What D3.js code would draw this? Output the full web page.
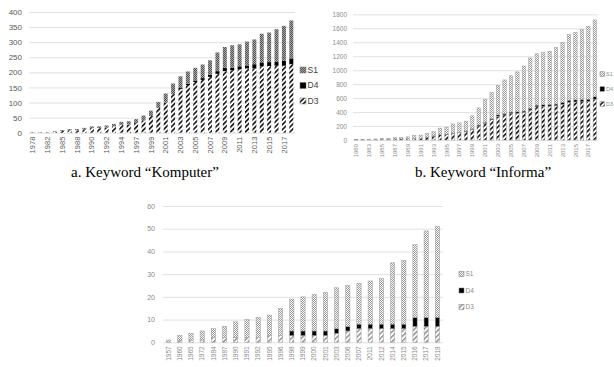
<!DOCTYPE html>
<html>
<head>
<meta charset="utf-8">
<script src="https://cdn.jsdelivr.net/npm/d3@7"></script>
<style>
  body { margin: 0; background: #fff; }
  svg { display: block; }
  .tick line { stroke: #d9d9d9; stroke-width: 0.8; }
  .domain { display: none; }
  .caption { font-family: "Liberation Serif", "Times New Roman", serif; font-size: 15px; fill: #000; }
</style>
</head>
<body>
<svg id="fig" width="614" height="367"></svg>
<script>
// a. Keyword "Komputer"
var aYears = [1978,1980,1982,1984,1985,1987,1988,1989,1990,1991,1992,1993,1994,1996,1997,1998,1999,
  2000,2001,2002,2003,2004,2005,2006,2007,2008,2009,2010,2011,2012,2013,2014,2015,2016,2017,2018];
var aD3 = [1,1,1,3,6,8,8,11,15,15,17,21,26,27,32,41,55,
  82,100,128,145,158,168,175,185,195,204,207,210,213,213,220,221,222,222,227];
var aD4 = [0,0,0,0,0,0,0,0,0,0,0,0,0,0,0,0,0,
  0,0,0,3,4,5,6,7,9,11,8,10,10,14,13,13,14,16,19];
var aS1 = [1,1,1,2,3,4,4,5,6,6,7,8,10,11,13,16,18,
  20,30,35,39,41,42,45,48,62,69,75,73,79,82,95,98,107,116,126];
var aTicks = [0,50,100,150,200,250,300,350,400];

// b. Keyword "Informa"
var bYears = [1980,1982,1983,1984,1985,1986,1987,1988,1989,1990,1991,1992,1993,1994,1995,1996,1997,1998,1999,
  2000,2001,2002,2003,2004,2005,2006,2007,2008,2009,2010,2011,2012,2013,2014,2015,2016,2017,2018];
var bD3 = [3,3,5,8,12,12,15,15,20,25,25,40,55,75,80,95,105,120,150,
  200,240,290,340,360,380,385,395,430,475,480,485,490,510,540,545,550,555,585];
var bD4 = [0,0,0,0,0,0,0,0,0,0,0,0,5,5,5,5,5,10,10,
  15,15,15,20,20,20,20,20,25,25,25,25,25,30,30,30,30,30,35];
var bS1 = [2,2,5,7,13,13,20,20,25,40,45,55,60,90,95,130,135,140,185,
  245,325,375,420,480,520,570,645,720,735,745,760,810,855,940,965,1000,1045,1100];
var bTicks = [0,200,400,600,800,1000,1200,1400,1600,1800];

// c. third keyword
var cYears = [1957,1960,1965,1972,1984,1987,1990,1991,1992,1995,1996,1998,1999,2000,2001,2003,
  2006,2007,2011,2012,2014,2015,2016,2017,2018];
var cD3 = [0,1,1,1,2,2,2,2,2,3,3,3,3,3,3,4,5,6,6,6,6,6,7,7,7];
var cD4 = [0,0,0,0,0,0,0,0,0,0,0,2,2,2,2,2,2,2,2,2,2,2,4,4,4];
var cS1 = [1,2,3,4,4,5,7,8,9,9,12,14,15,16,17,18,18,18,19,20,27,28,32,38,40];
var cTicks = [0,10,20,30,40,50,60];

var keys = ["D3", "D4", "S1"];
var svg = d3.select("#fig");
var defs = svg.append("defs");

// fill patterns
function dotPattern(id, bg, dot, size) {
  var p = defs.append("pattern").attr("id", id)
    .attr("patternUnits", "userSpaceOnUse").attr("width", size).attr("height", size);
  p.append("rect").attr("width", size).attr("height", size).attr("fill", bg);
  p.append("rect").attr("width", 1).attr("height", 1).attr("fill", dot);
  p.append("rect").attr("x", size / 2).attr("y", size / 2).attr("width", 1).attr("height", 1).attr("fill", dot);
}
function stripePattern(id, color, w) {
  var p = defs.append("pattern").attr("id", id)
    .attr("patternUnits", "userSpaceOnUse").attr("width", 3.5).attr("height", 3.5)
    .attr("patternTransform", "rotate(45)");
  p.append("rect").attr("width", 3.5).attr("height", 3.5).attr("fill", "#fff");
  p.append("rect").attr("width", w).attr("height", 3.5).attr("fill", color);
}
dotPattern("s1dark", "#a3a3a3", "#555", 2);
dotPattern("s1light", "#fff", "#9a9a9a", 2);
stripePattern("d3dark", "#111", 1.6);
stripePattern("d3grey", "#8a8a8a", 1.4);

function drawChart(o) {
  var rows = o.years.map(function(yr, i) {
    return {year: yr, D3: o.d3[i], D4: o.d4[i], S1: o.s1[i]};
  });
  var series = d3.stack().keys(keys)(rows);

  var x = d3.scaleBand()
    .domain(o.years)
    .range([o.left, o.right])
    .paddingInner(o.pad)
    .paddingOuter(o.pad / 2);

  var y = d3.scaleLinear()
    .domain([0, o.ticks[o.ticks.length - 1]])
    .range([o.bottom, o.top]);

  // gridlines + y labels
  svg.append("g")
    .attr("transform", "translate(" + o.left + ",0)")
    .call(d3.axisLeft(y).tickValues(o.ticks).tickFormat(d3.format("d"))
      .tickSize(-(o.right - o.left)).tickPadding(o.ypad))
    .call(function(g) {
      g.selectAll("text")
        .style("font-family", "'Liberation Sans', Arial, sans-serif")
        .style("font-size", o.yfont + "px")
        .style("fill", o.textColor);
    });

  // x labels
  var shown = o.years.filter(function(d, i) { return i % o.every === 0; });
  svg.append("g")
    .attr("transform", "translate(0," + o.bottom + ")")
    .call(d3.axisBottom(x).tickValues(shown).tickSize(0))
    .call(function(g) {
      g.selectAll("text")
        .attr("transform", "rotate(-90)")
        .attr("x", -4)
        .attr("y", 0)
        .attr("dy", "0.35em")
        .style("text-anchor", "end")
        .style("font-family", "'Liberation Sans', Arial, sans-serif")
        .style("font-size", o.xfont + "px")
        .style("fill", o.textColor);
    });

  // bars
  svg.append("g")
    .selectAll("g")
    .data(series)
    .join("g")
    .attr("fill", function(d) { return o.fills[d.key]; })
    .selectAll("rect")
    .data(function(d) { return d; })
    .join("rect")
    .attr("x", function(d) { return x(d.data.year); })
    .attr("y", function(d) { return y(d[1]); })
    .attr("height", function(d) { return y(d[0]) - y(d[1]); })
    .attr("width", x.bandwidth())
    .attr("stroke", o.barStroke)
    .attr("stroke-width", 0.5);

  // legend
  var leg = svg.append("g")
    .attr("transform", "translate(" + o.legX + "," + o.legY + ")");
  var items = leg.selectAll("g")
    .data(["S1", "D4", "D3"])
    .join("g")
    .attr("transform", function(d, i) { return "translate(0," + i * o.legGap + ")"; });
  items.append("rect")
    .attr("x", 0)
    .attr("y", -o.legBox / 2)
    .attr("width", o.legBox)
    .attr("height", o.legBox)
    .attr("fill", function(d) { return o.fills[d]; })
    .attr("stroke", "#777")
    .attr("stroke-width", 0.5);
  items.append("text")
    .attr("x", o.legBox + 1.5)
    .attr("dy", "0.35em")
    .style("font-family", "'Liberation Sans', Arial, sans-serif")
    .style("font-size", o.legFont + "px")
    .style("fill", o.legColor)
    .text(function(d) { return d; });

  if (o.caption) {
    svg.append("text")
      .attr("class", "caption")
      .attr("x", o.capX)
      .attr("y", 177)
      .attr("text-anchor", "middle")
      .text(o.caption);
  }
}

drawChart({
  years: aYears, d3: aD3, d4: aD4, s1: aS1, ticks: aTicks,
  left: 29, right: 295, top: 12, bottom: 132.7, pad: 0.46,
  every: 2, yfont: 8, xfont: 7.5, ypad: 7, textColor: "#595959",
  fills: {D3: "url(#d3dark)", D4: "#000", S1: "url(#s1dark)"}, barStroke: "none",
  legX: 300, legY: 70, legGap: 15.5, legBox: 6, legFont: 8.5, legColor: "#404040",
  caption: "a. Keyword \u201cKomputer\u201d", capX: 145
});

drawChart({
  years: bYears, d3: bD3, d4: bD4, s1: bS1, ticks: bTicks,
  left: 353, right: 598, top: 14.3, bottom: 140, pad: 0.48,
  every: 2, yfont: 6.5, xfont: 6, ypad: 6, textColor: "#8c8c8c",
  fills: {D3: "url(#d3dark)", D4: "#000", S1: "url(#s1light)"}, barStroke: "#9a9a9a",
  legX: 600, legY: 74, legGap: 15, legBox: 4.5, legFont: 5.5, legColor: "#8c8c8c",
  caption: "b. Keyword \u201cInforma\u201d", capX: 483
});

drawChart({
  years: cYears, d3: cD3, d4: cD4, s1: cS1, ticks: cTicks,
  left: 163, right: 443, top: 206, bottom: 342.3, pad: 0.62,
  every: 1, yfont: 7, xfont: 6.5, ypad: 8, textColor: "#8c8c8c",
  fills: {D3: "url(#d3grey)", D4: "#000", S1: "url(#s1light)"}, barStroke: "#9a9a9a",
  legX: 459, legY: 274, legGap: 16.5, legBox: 5, legFont: 6.5, legColor: "#8c8c8c",
  caption: null
});
</script>
</body>
</html>
